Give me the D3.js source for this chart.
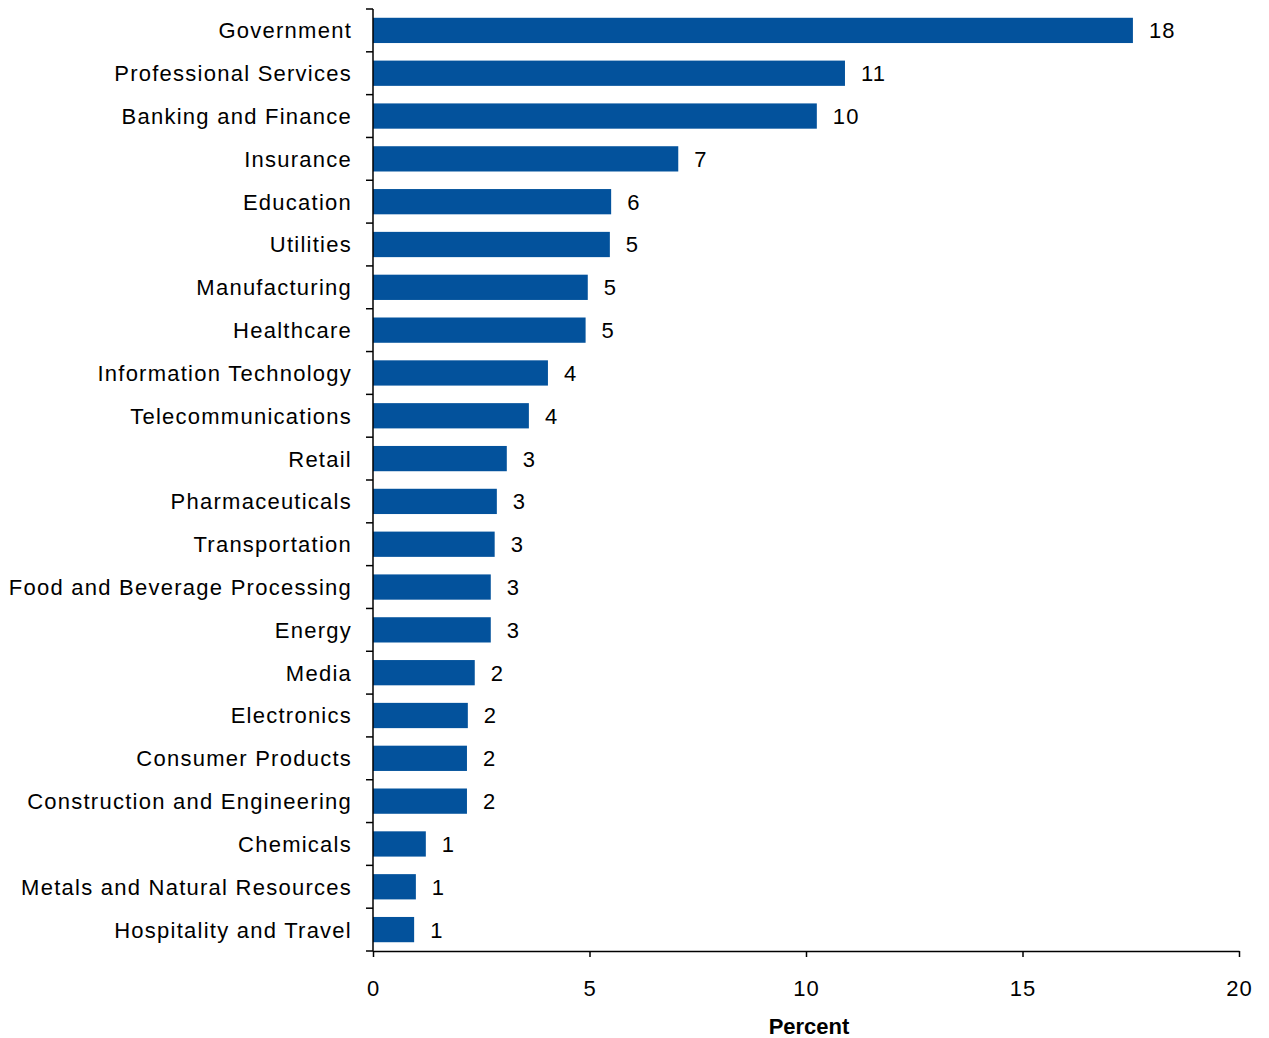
<!DOCTYPE html>
<html>
<head>
<meta charset="utf-8">
<script src="https://cdn.jsdelivr.net/npm/d3@7"></script>
<style>
  html, body { margin: 0; padding: 0; background: #fff; }
  svg text { font-family: "Liberation Sans", Arial, sans-serif; fill: #000; }
</style>
</head>
<body>
<svg id="chart" width="1269" height="1038"></svg>
<script>
// Share of respondents by industry (percent)
const industries = [
  "Government", "Professional Services", "Banking and Finance", "Insurance",
  "Education", "Utilities", "Manufacturing", "Healthcare",
  "Information Technology", "Telecommunications", "Retail", "Pharmaceuticals",
  "Transportation", "Food and Beverage Processing", "Energy", "Media",
  "Electronics", "Consumer Products", "Construction and Engineering",
  "Chemicals", "Metals and Natural Resources", "Hospitality and Travel"
];
const percents = [
  17.55, 10.9, 10.25, 7.05,
  5.5, 5.47, 4.96, 4.91,
  4.04, 3.6, 3.09, 2.86,
  2.81, 2.72, 2.72, 2.35,
  2.19, 2.17, 2.17,
  1.22, 0.99, 0.95
];
const xTicks = [0, 5, 10, 15, 20];
const xTitle = "Percent";

const data = industries.map((name, i) => ({ name, value: percents[i] }));

const plotTop = 9, plotBottom = 951;
const svg = d3.select("#chart");

const x = d3.scaleLinear().domain([0, 20]).range([373, 1239]);
const y = d3.scaleBand().domain(industries).range([plotTop, plotBottom]).paddingInner(0.41).paddingOuter(0.205);

// bars
svg.append("g").selectAll("rect").data(data).join("rect")
  .attr("x", x(0))
  .attr("y", d => y(d.name))
  .attr("width", d => x(d.value) - x(0))
  .attr("height", y.bandwidth())
  .attr("fill", "#03529c");

// value labels
svg.append("g").selectAll("text").data(data).join("text")
  .attr("x", d => x(d.value) + 16)
  .attr("y", d => y(d.name) + y.bandwidth() / 2)
  .attr("dy", "0.36em")
  .style("font-size", "22px")
  .style("letter-spacing", "1.2px")
  .text(d => d3.format(".0f")(d.value));

// y axis: line with ticks at category boundaries
const yAxis = svg.append("g");
yAxis.append("line")
  .attr("x1", x(0)).attr("x2", x(0))
  .attr("y1", plotTop).attr("y2", plotBottom)
  .attr("stroke", "#000").attr("stroke-width", 1.5);
const bandStep = (plotBottom - plotTop) / industries.length;
const bounds = d3.range(industries.length + 1).map(i => plotTop + i * bandStep);
yAxis.selectAll("line.tick").data(bounds).join("line")
  .attr("class", "tick")
  .attr("x1", x(0) - 7).attr("x2", x(0))
  .attr("y1", d => d).attr("y2", d => d)
  .attr("stroke", "#000").attr("stroke-width", 1.5);
yAxis.selectAll("text").data(industries).join("text")
  .attr("x", 352)
  .attr("y", d => y(d) + y.bandwidth() / 2)
  .attr("dy", "0.36em")
  .attr("text-anchor", "end")
  .style("font-size", "22px")
  .style("letter-spacing", "1.25px")
  .text(d => d);

// x axis
const xAxis = svg.append("g").attr("transform", `translate(0,${plotBottom})`)
  .call(d3.axisBottom(x).tickValues(xTicks).tickSize(6).tickPadding(23).tickSizeOuter(0));
xAxis.select(".domain").attr("stroke", "#000").attr("stroke-width", 1.5);
xAxis.selectAll(".tick line").attr("stroke", "#000").attr("stroke-width", 1.5);
xAxis.selectAll(".tick text").style("font-size", "22px").attr("fill", "#000")
  .style("letter-spacing", "1px")
  .style("font-family", "'Liberation Sans', Arial, sans-serif");

svg.append("text")
  .attr("x", (x(0) + x(20)) / 2 + 3)
  .attr("y", 1034)
  .attr("text-anchor", "middle")
  .style("font-size", "22px")
  .style("font-weight", "bold")
  .text(xTitle);
</script>
</body>
</html>
